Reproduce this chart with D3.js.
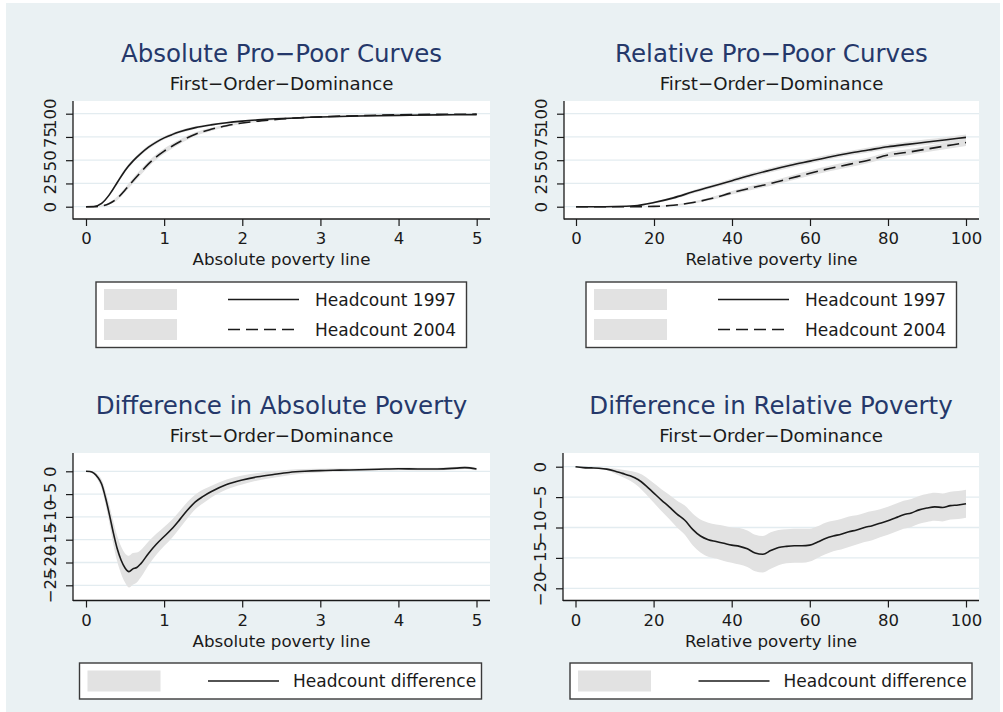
<!DOCTYPE html>
<html><head><meta charset="utf-8">
<script src="https://cdn.jsdelivr.net/npm/d3@7"></script>
<style>body{margin:0;background:#fff}svg{display:block}</style>
</head><body><svg id="c" width="1003" height="712"></svg>
<script>
// ---------------- DATA ----------------
const absX        = [0,0.1,0.2,0.3,0.4,0.5,0.6,0.7,0.8,0.9,1.0,1.1,1.2,1.4,1.6,1.8,2.0,2.25,2.5,3,3.5,4,4.5,5];
const head1997Abs = [0,0.2,3.5,13,26,39,49,57,64,69.5,74,77.5,80.5,85,88,90.3,92,93.6,94.8,96.5,97.5,98.2,98.7,99];
const band1997Abs = [0,0.2,1,1.5,2,2,2,2,2,2,1.8,1.7,1.6,1.4,1.2,1,0.9,0.8,0.7,0.6,0.5,0.5,0.4,0.4];
const head2004Abs = [0,0,0.7,3.5,9,18,27.7,37,46,53.5,59.7,65,69.8,78,83.2,87.1,90,92.4,94.3,96.6,97.9,98.8,99.3,99.5];
const band2004Abs = [0,0,0.5,1.2,2,2.5,3,3,3,3,2.8,2.6,2.4,2,1.7,1.4,1.2,1,0.9,0.7,0.6,0.5,0.5,0.5];

const relX        = [0,5,10,15,20,25,30,35,40,45,50,55,60,65,70,75,80,85,90,95,100];
const head1997Rel = [0,0,0.2,1,4.5,9.5,16,22,28,34,39.5,44.5,49,53.5,57.5,61,64.5,67,69.5,72,74.5];
const band1997Rel = [0,0,0.2,0.6,1,1.4,1.8,2,2.2,2.4,2.5,2.5,2.5,2.5,2.5,2.6,2.7,2.8,2.9,3,3.2];
const head2004Rel = [0,0,0,0,0.3,1.5,4.5,9,15,20.3,25,30.5,36,41,45.5,50,55.5,58.5,62,65.5,69];
const band2004Rel = [0,0,0,0.1,0.4,0.8,1.2,1.6,2,2.3,2.5,2.7,2.8,2.9,3,3,3.1,3.2,3.3,3.4,3.6];

const diffAbsX    = [0,0.05,0.1,0.15,0.2,0.25,0.3,0.35,0.4,0.45,0.5,0.55,0.6,0.65,0.7,0.8,0.9,1.0,1.1,1.2,1.3,1.4,1.5,1.6,1.8,2.0,2.2,2.4,2.6,2.8,3.0,3.25,3.5,3.75,4.0,4.25,4.5,4.75,4.85,5.0];
const diffAbs     = [0,-0.05,-0.4,-1.3,-2.8,-5.8,-9.5,-13.5,-17,-19.5,-21.2,-22,-21.4,-21.1,-20.3,-18,-16,-14.3,-12.6,-10.6,-8.5,-6.7,-5.5,-4.5,-2.9,-1.9,-1.2,-0.7,-0.25,0,0.15,0.25,0.35,0.45,0.55,0.5,0.5,0.7,0.8,0.5];
const diffAbsBand = [0,0.1,0.3,0.6,1,1.5,2,2.5,2.8,3,3.2,3.5,3.5,3.3,3,2.6,2.3,2.1,2,1.9,1.8,1.6,1.5,1.3,1.1,1,0.8,0.7,0.6,0.5,0.4,0.35,0.3,0.3,0.3,0.3,0.3,0.3,0.3,0.3];

const diffRelX    = [0,2,4,6,8,10,12,14,16,18,20,22,24,26,28,30,32,34,36,38,40,42,44,46,48,50,52,54,56,58,60,62,64,66,68,70,72,74,76,78,80,82,84,86,88,90,92,94,96,98,100];
const diffRel     = [0,-0.15,-0.2,-0.25,-0.4,-0.7,-1.1,-1.5,-2.1,-3.1,-4.3,-5.5,-6.6,-7.8,-8.8,-10.3,-11.4,-12,-12.3,-12.6,-12.9,-13.1,-13.5,-14.2,-14.4,-13.8,-13.3,-13.1,-13,-13,-12.9,-12.4,-11.8,-11.4,-11.1,-10.7,-10.4,-10,-9.7,-9.3,-8.9,-8.4,-7.9,-7.6,-7.1,-6.8,-6.6,-6.7,-6.4,-6.3,-6.1];
const diffRelBand = [0,0.1,0.1,0.15,0.2,0.4,0.6,0.8,1.1,1.4,1.6,1.8,2,2.2,2.4,2.6,2.7,2.8,2.8,2.9,2.9,3,3,3,3,3,2.9,2.8,2.8,2.8,2.7,2.6,2.6,2.5,2.5,2.5,2.4,2.4,2.4,2.3,2.3,2.3,2.3,2.3,2.3,2.3,2.3,2.3,2.3,2.3,2.3];

const absTicks      = [0,1,2,3,4,5];
const relTicks      = [0,20,40,60,80,100];
const curveYTicks   = [0,25,50,75,100];
const diffAbsYTicks = [-25,-20,-15,-10,-5,0];
const diffRelYTicks = [-20,-15,-10,-5,0];

const titles    = ["Absolute Pro\u2212Poor Curves","Relative Pro\u2212Poor Curves","Difference in Absolute Poverty","Difference in Relative Poverty"];
const subtitle  = "First\u2212Order\u2212Dominance";
const xTitles   = ["Absolute poverty line","Relative poverty line"];
const curveLabels = ["Headcount 1997","Headcount 2004"];
const diffLabel   = "Headcount difference";

// ---------------- DRAWING ----------------
const FONT = "'DejaVu Sans', 'Liberation Sans', Arial, sans-serif";
const BG = "#EAF1F3", GRID = "#E3ECF0", BAND = "#E2E2E2", INK = "#1a1a1a", NAVY = "#25386a";
const fmt = d3.format("~g");
const svg = d3.select('#c');
svg.append('rect').attr('width',1003).attr('height',712).attr('fill','#fff');
svg.append('rect').attr('x',6).attr('y',3).attr('width',994).attr('height',709).attr('fill',BG);

function zip(xs, ys, bs){ return xs.map((x,i)=>({x, y:ys[i], lo:ys[i]-bs[i], hi:ys[i]+bs[i]})); }

function panel(c){
  const g = svg.append('g');
  const x = d3.scaleLinear().domain(c.xDom).range(c.xRange);
  const y = d3.scaleLinear().domain(c.yDom).range(c.yRange);
  const cx = (c.left + c.right)/2;
  g.append('text').attr('x',cx).attr('y',c.top-39).attr('text-anchor','middle')
    .attr('font-family',FONT).attr('font-size',24.5).attr('fill',NAVY).text(c.title);
  g.append('text').attr('x',cx).attr('y',c.top-11).attr('text-anchor','middle')
    .attr('font-family',FONT).attr('font-size',18.2).attr('fill',INK).text(subtitle);
  g.append('rect').attr('x',c.left).attr('y',c.top).attr('width',c.right-c.left).attr('height',c.bottom-c.top).attr('fill','#fff');
  g.selectAll('.grid').data(c.yTicks).join('line')
    .attr('x1',c.left).attr('x2',c.right).attr('y1',d=>y(d)).attr('y2',d=>y(d))
    .attr('stroke',GRID).attr('stroke-width',1.3);
  const area = d3.area().x(d=>x(d.x)).y0(d=>y(d.lo)).y1(d=>y(d.hi)).curve(d3.curveMonotoneX);
  const line = d3.line().x(d=>x(d.x)).y(d=>y(d.y)).curve(d3.curveMonotoneX);
  c.series.forEach(s=>{
    g.append('path').datum(s.data).attr('d',area).attr('fill',BAND).attr('stroke','none');
  });
  c.series.forEach(s=>{
    g.append('path').datum(s.data).attr('d',line).attr('fill','none').attr('stroke',INK)
      .attr('stroke-width',1.6).attr('stroke-dasharray',s.dash ? '12,6' : null);
  });
  // axes
  const ya = g.append('g').attr('transform',`translate(${c.left},0)`)
    .call(d3.axisLeft(y).tickValues(c.yTicks).tickFormat(fmt).tickSize(7).tickSizeOuter(0));
  ya.select('.domain').remove();
  ya.selectAll('.tick line').attr('stroke',INK).attr('stroke-width',1.2);
  ya.selectAll('.tick text').attr('transform','rotate(-90)').attr('x',0).attr('y',-17).attr('dy',0)
    .attr('text-anchor','middle').attr('font-family',FONT).attr('font-size',16.5).attr('fill',INK);
  const xa = g.append('g').attr('transform',`translate(0,${c.bottom})`)
    .call(d3.axisBottom(x).tickValues(c.xTicks).tickFormat(fmt).tickSize(7).tickSizeOuter(0));
  xa.select('.domain').remove();
  xa.selectAll('.tick line').attr('stroke',INK).attr('stroke-width',1.2);
  xa.selectAll('.tick text').attr('y',25).attr('dy',0)
    .attr('font-family',FONT).attr('font-size',16.5).attr('fill',INK);
  g.append('line').attr('x1',c.left).attr('x2',c.left).attr('y1',c.top).attr('y2',c.bottom+0.6).attr('stroke',INK).attr('stroke-width',1.3);
  g.append('line').attr('x1',c.left).attr('x2',c.right).attr('y1',c.bottom).attr('y2',c.bottom).attr('stroke',INK).attr('stroke-width',1.3);
  g.append('text').attr('x',cx).attr('y',c.bottom+46).attr('text-anchor','middle')
    .attr('font-family',FONT).attr('font-size',16.7).attr('fill',INK).text(c.xTitle);
  // legend
  const L = c.legend;
  const lg = svg.append('g').attr('transform',`translate(${L.x},${L.y})`);
  lg.append('rect').attr('width',L.w).attr('height',L.h).attr('fill','#fff').attr('stroke','#3a3a3a').attr('stroke-width',1.4);
  L.items.forEach((it,i)=>{
    const cy = L.rowY[i];
    lg.append('rect').attr('x',L.swX).attr('y',cy-10.5).attr('width',73).attr('height',21).attr('fill',BAND);
    lg.append('line').attr('x1',L.lnX).attr('x2',L.lnX+71).attr('y1',cy).attr('y2',cy)
      .attr('stroke',INK).attr('stroke-width',1.6).attr('stroke-dasharray',it.dash?'12,6':null);
    lg.append('text').attr('x',L.txX).attr('y',cy+6.3).attr('font-family',FONT).attr('font-size',17)
      .attr('fill',INK).text(it.label);
  });
}

const curveLegendItems = [{label:curveLabels[0],dash:false},{label:curveLabels[1],dash:true}];
const diffLegendItems  = [{label:diffLabel,dash:false}];

panel({left:73,right:490,top:101,bottom:219,xDom:[0,5],xRange:[86,476.7],yDom:[0,100],yRange:[206.7,113.7],
  xTicks:absTicks,yTicks:curveYTicks,title:titles[0],xTitle:xTitles[0],
  series:[{data:zip(absX,head1997Abs,band1997Abs)},{data:zip(absX,head2004Abs,band2004Abs),dash:true}],
  legend:{x:96,y:282,w:370.5,h:65.5,swX:8,lnX:132,txX:219,rowY:[17.5,47.5],items:curveLegendItems}});
panel({left:564,right:979,top:101,bottom:219,xDom:[0,100],xRange:[576,966],yDom:[0,100],yRange:[206.7,113.7],
  xTicks:relTicks,yTicks:curveYTicks,title:titles[1],xTitle:xTitles[1],
  series:[{data:zip(relX,head1997Rel,band1997Rel)},{data:zip(relX,head2004Rel,band2004Rel),dash:true}],
  legend:{x:586,y:282,w:370.5,h:65.5,swX:8,lnX:132,txX:219,rowY:[17.5,47.5],items:curveLegendItems}});
panel({left:73,right:490,top:453,bottom:600.5,xDom:[0,5],xRange:[86,476.5],yDom:[0,-25],yRange:[471.3,585.3],
  xTicks:absTicks,yTicks:diffAbsYTicks,title:titles[2],xTitle:xTitles[0],
  series:[{data:zip(diffAbsX,diffAbs,diffAbsBand)}],
  legend:{x:79.5,y:663,w:402,h:36,swX:8,lnX:128.5,txX:213.5,rowY:[18],items:diffLegendItems}});
panel({left:563,right:979,top:453,bottom:600.5,xDom:[0,100],xRange:[575.5,966],yDom:[0,-20],yRange:[466.7,588.3],
  xTicks:relTicks,yTicks:diffRelYTicks,title:titles[3],xTitle:xTitles[1],
  series:[{data:zip(diffRelX,diffRel,diffRelBand)}],
  legend:{x:570,y:663,w:402,h:36,swX:8,lnX:128.5,txX:213.5,rowY:[18],items:diffLegendItems}});
</script></body></html>
